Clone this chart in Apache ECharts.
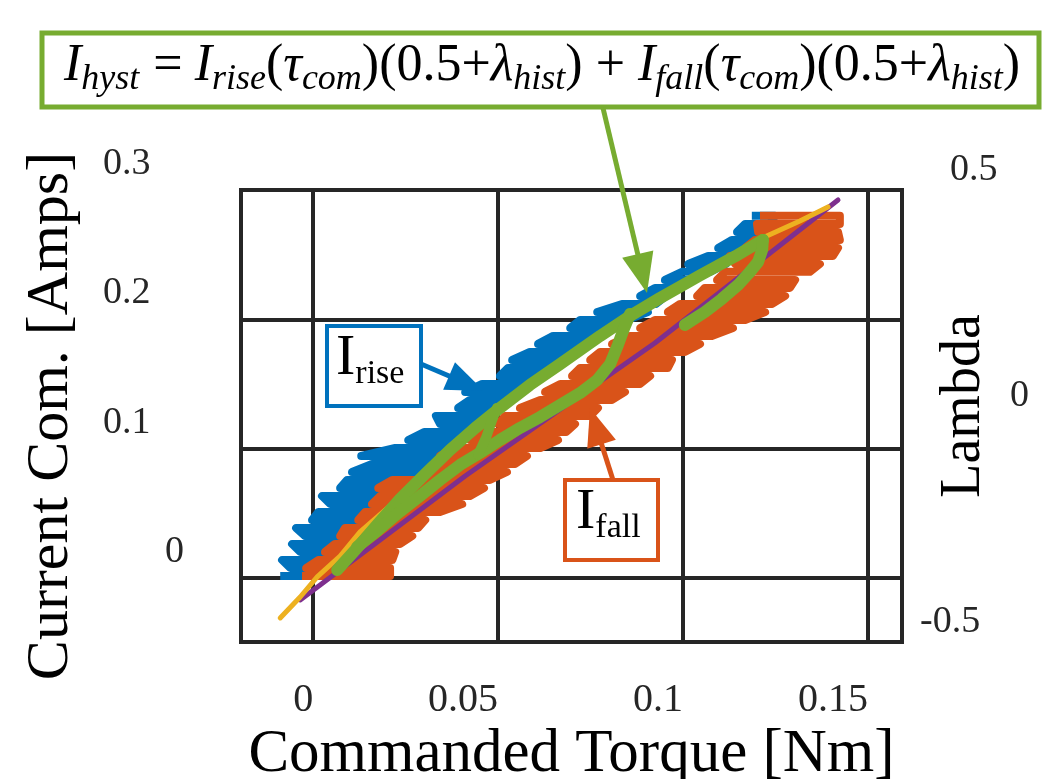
<!DOCTYPE html>
<html><head><meta charset="utf-8">
<script src="https://cdn.jsdelivr.net/npm/echarts@6/dist/echarts.min.js"></script>
<style>html,body{margin:0;padding:0;background:#fff}#c{width:1043px;height:779px}</style>
</head><body><div id="c"></div>
<script>
// ---- tick labels ----
const torqueTicks = [0, 0.05, 0.1, 0.15];
const currentTicks = [0, 0.1, 0.2, 0.3];
const lambdaTicks = [-0.5, 0, 0.5];

// ---- I_rise (blue): current levels with min / max commanded torque at each level ----
const riseI = [0.0015,0.0077,0.0139,0.0201,0.0263,0.0325,0.0387,0.0449,0.0510,0.0572,0.0634,0.0696,0.0758,0.0820,0.0882,0.0944,0.1005,0.1067,0.1129,0.1191,0.1253,0.1315,0.1377,0.1439,0.1500,0.1562,0.1624,0.1686,0.1748,0.1810,0.1872,0.1933,0.1995,0.2057,0.2119,0.2181,0.2243,0.2305,0.2367,0.2428,0.2490,0.2552,0.2614,0.2676,0.2738,0.2800];
const riseTmin = [-0.0089,-0.0062,-0.0084,-0.0035,-0.0057,-0.0022,-0.0046,-0.0003,0.0014,0.0046,0.0024,0.0073,0.0092,0.0105,0.0159,0.0130,0.0222,0.0257,0.0300,0.0343,0.0332,0.0392,0.0424,0.0411,0.0457,0.0505,0.0527,0.0538,0.0586,0.0608,0.0649,0.0695,0.0722,0.0768,0.0835,0.0884,0.0924,0.0951,0.0997,0.1014,0.1068,0.1095,0.1132,0.1146,0.1168,0.1186];
const riseTmax = [0.0014,0.0059,0.0086,0.0105,0.0127,0.0143,0.0162,0.0181,0.0200,0.0219,0.0241,0.0262,0.0284,0.0305,0.0327,0.0346,0.0373,0.0397,0.0422,0.0449,0.0476,0.0505,0.0532,0.0559,0.0589,0.0619,0.0654,0.0684,0.0716,0.0749,0.0778,0.0814,0.0849,0.0905,0.0927,0.0954,0.0992,0.1030,0.1073,0.1116,0.1159,0.1203,0.1241,0.1230,0.1235,0.1249];

// ---- I_fall (orange) ----
const fallI = [0.0015,0.0077,0.0139,0.0201,0.0263,0.0325,0.0387,0.0449,0.0510,0.0572,0.0634,0.0696,0.0758,0.0820,0.0882,0.0944,0.1005,0.1067,0.1129,0.1191,0.1253,0.1315,0.1377,0.1439,0.1500,0.1562,0.1624,0.1686,0.1748,0.1810,0.1872,0.1933,0.1995,0.2057,0.2119,0.2181,0.2243,0.2305,0.2367,0.2428,0.2490,0.2552,0.2614,0.2676,0.2738,0.2800];
const fallTmin = [-0.0030,-0.0019,0.0014,0.0032,0.0059,0.0073,0.0086,0.0122,0.0141,0.0159,0.0181,0.0176,0.0214,0.0316,0.0330,0.0343,0.0384,0.0424,0.0451,0.0500,0.0519,0.0559,0.0614,0.0627,0.0668,0.0700,0.0722,0.0749,0.0776,0.0808,0.0857,0.0884,0.0924,0.0959,0.0992,0.1038,0.1059,0.1092,0.1114,0.1141,0.1127,0.1168,0.1195,0.1203,0.1200,0.1208];
const fallTmax = [0.0208,0.0208,0.0214,0.0222,0.0235,0.0268,0.0284,0.0303,0.0343,0.0403,0.0424,0.0462,0.0478,0.0524,0.0546,0.0578,0.0614,0.0662,0.0684,0.0708,0.0749,0.0770,0.0808,0.0843,0.0884,0.0911,0.0959,0.0970,0.1005,0.1046,0.1078,0.1135,0.1168,0.1222,0.1241,0.1276,0.1289,0.1303,0.1343,0.1370,0.1405,0.1419,0.1424,0.1419,0.1424,0.1424];

// ---- fitted lines [torque, current] ----
const purpleFit = [[-0.0035,-0.0170],[0.0411,0.0789],[0.0924,0.1817],[0.1419,0.2923]];
const yellowFit = [[-0.0089,-0.0309],[-0.0035,-0.0147],[0.0011,0.0008],[0.0073,0.0170],[0.0127,0.0356],[0.0235,0.0626],[0.0370,0.0990],[0.0586,0.1493],[0.0857,0.2026],[0.1046,0.2336],[0.1216,0.2630],[0.1316,0.2761],[0.1392,0.2869]];

// ---- I_hyst (green) branches [torque, current] ----
const hystUp = [[0.0065,0.0062],[0.0114,0.0217],[0.0168,0.0394],[0.0235,0.0611],[0.0303,0.0804],[0.0370,0.0990],[0.0438,0.1160],[0.0505,0.1315],[0.0586,0.1493],[0.0668,0.1655],[0.0776,0.1872],[0.0857,0.2026],[0.0938,0.2165],[0.1046,0.2340],[0.1141,0.2487],[0.1216,0.2614]];
const hystTopDown = [[0.1216,0.2614],[0.1214,0.2537],[0.1203,0.2444],[0.1181,0.2367],[0.1149,0.2266],[0.1105,0.2158],[0.1059,0.2057],[0.1005,0.1957]];
const hystLow = [[0.0119,0.0240],[0.0176,0.0371],[0.0230,0.0503],[0.0289,0.0634],[0.0343,0.0758],[0.0397,0.0874],[0.0451,0.0967],[0.0505,0.1067],[0.0559,0.1160],[0.0614,0.1245],[0.0668,0.1338],[0.0722,0.1431],[0.0768,0.1531],[0.0803,0.1655],[0.0824,0.1802],[0.0841,0.1934],[0.0857,0.2042]];
const hystKink = [[0.0497,0.1315],[0.0484,0.1222],[0.0468,0.1090],[0.0446,0.0952]];

const F = 'Liberation Serif';
const INK = '#262626';
const C_BLUE = '#0072BD', C_ORANGE = '#D95319', C_YELLOW = '#EDB120', C_PURPLE = '#7E2F8E', C_GREEN = '#77AC30';

// snake through the levels: horizontal excursions alternating direction
function snake(levels, tmin, tmax) {
  const out = [];
  for (let i = 0; i < levels.length; i++) {
    if (i % 2 === 0) { out.push([tmin[i], levels[i]]); out.push([tmax[i], levels[i]]); }
    else { out.push([tmax[i], levels[i]]); out.push([tmin[i], levels[i]]); }
  }
  return out;
}

function lineSeries(name, data, color, width, cap) {
  return {
    name, type: 'line', data, xAxisIndex: 0, yAxisIndex: 0,
    showSymbol: false, symbol: 'none', smooth: false, silent: true,
    lineStyle: {color, width, cap: cap || 'round', join: 'round'}
  };
}

const chart = echarts.init(document.getElementById('c'), null, {renderer: 'canvas'});

function arrow(x1, y1, x2, y2, color, headLen, headHalf, width) {
  const dx = x2 - x1, dy = y2 - y1, L = Math.hypot(dx, dy);
  const ux = dx / L, uy = dy / L;
  const bx = x2 - ux * headLen, by = y2 - uy * headLen;
  const px = -uy * headHalf, py = ux * headHalf;
  return [
    {type: 'line', z: 100, shape: {x1, y1, x2: bx + ux * 2, y2: by + uy * 2}, style: {stroke: color, lineWidth: width}},
    {type: 'polygon', z: 100, shape: {points: [[x2, y2], [bx + px, by + py], [bx - px, by - py]]}, style: {fill: color}}
  ];
}

const sub = {fontFamily: F, fontStyle: 'italic', fontSize: 36, lineHeight: 36, verticalAlign: 'bottom', fill: '#000'};
const formula = '{i|I}{s|hyst}{e|=}{i|I}{s|rise}{r|(}{i|τ}{s|com}{r|)(0.5+}{i|λ}{s|hist}{r|) + }{i|I}{s|fall}{r|(}{i|τ}{s|com}{r|)(0.5+}{i|λ}{s|hist}{r|)}';

const graphics = [
  {type: 'rect', z: 99, shape: {x: 42, y: 33, width: 997, height: 74}, style: {fill: '#fff', stroke: C_GREEN, lineWidth: 5}},
  {type: 'text', z: 100, left: 64, top: 40, style: {text: formula, rich: {
    i: {fontFamily: F, fontStyle: 'italic', fontSize: 52, lineHeight: 64, fill: '#000'},
    r: {fontFamily: F, fontSize: 52, lineHeight: 64, fill: '#000'},
    e: {fontFamily: F, fontSize: 52, lineHeight: 64, fill: '#000', padding: [0, 12, 0, 14]},
    s: sub
  }}},
  ...arrow(603, 108, 647, 293, C_GREEN, 40, 16, 5),
  {type: 'rect', z: 99, shape: {x: 327, y: 326, width: 94, height: 80}, style: {fill: '#fff', stroke: C_BLUE, lineWidth: 4}},
  {type: 'text', z: 100, left: 336, top: 330, style: {text: '{a|I}{b|rise}', rich: {
    a: {fontFamily: F, fontSize: 58, lineHeight: 64, fill: '#000'},
    b: {fontFamily: F, fontSize: 34, lineHeight: 34, verticalAlign: 'bottom', fill: '#000'}
  }}},
  ...arrow(421, 364, 484, 391, C_BLUE, 38, 15, 5),
  {type: 'rect', z: 99, shape: {x: 565, y: 480, width: 93, height: 80}, style: {fill: '#fff', stroke: C_ORANGE, lineWidth: 4}},
  {type: 'text', z: 100, left: 576, top: 484, style: {text: '{a|I}{b|fall}', rich: {
    a: {fontFamily: F, fontSize: 58, lineHeight: 64, fill: '#000'},
    b: {fontFamily: F, fontSize: 34, lineHeight: 34, verticalAlign: 'bottom', fill: '#000'}
  }}},
  ...arrow(613, 480, 590, 408, C_ORANGE, 38, 15, 5)
];

const option = {
  animation: false,
  backgroundColor: '#fff',
  grid: {left: 241, top: 190, right: 141, bottom: 137, show: true, borderColor: INK, borderWidth: 4,
    backgroundColor: '#fff', containLabel: false, outerBoundsMode: 'none'},
  xAxis: {
    type: 'value', min: -0.0195, max: 0.1592,
    axisLine: {show: false}, axisTick: {show: false, customValues: torqueTicks},
    splitLine: {show: true, lineStyle: {color: INK, width: 4}},
    axisLabel: {customValues: torqueTicks, fontFamily: F, fontSize: 40, color: INK, align: 'right', margin: 38,
      formatter: v => String(v)},
    name: 'Commanded Torque [Nm]', nameLocation: 'middle', nameGap: 82, nameMoveOverlap: false,
    nameTextStyle: {fontFamily: F, fontSize: 61, color: '#000'}
  },
  yAxis: [{
    type: 'value', min: -0.0495, max: 0.3,
    axisLine: {show: false}, axisTick: {show: false, customValues: currentTicks},
    splitLine: {show: true, lineStyle: {color: INK, width: 4}},
    axisLabel: {customValues: currentTicks, fontFamily: F, fontSize: 38, color: INK, align: 'left', margin: 138,
      padding: [0, 0, 52, 0],
      formatter: v => v === 0 ? '{z|0}' : String(v),
      rich: {z: {fontFamily: F, fontSize: 38, color: INK, padding: [0, 0, 0, 62]}}},
    name: 'Current Com. [Amps]', nameLocation: 'middle', nameGap: 160,
    nameTextStyle: {fontFamily: F, fontSize: 60, color: '#000'}
  }, {
    type: 'value', min: -0.5, max: 0.5, position: 'right',
    axisLine: {show: false}, axisTick: {show: false, customValues: lambdaTicks},
    splitLine: {show: false},
    axisLabel: {customValues: lambdaTicks, fontFamily: F, fontSize: 38, color: INK, align: 'left', margin: 18,
      padding: [0, 0, 40, 0],
      formatter: v => v === 0 ? '{z|0}' : (v > 0 ? '{p|' + v + '}' : String(v)),
      rich: {z: {fontFamily: F, fontSize: 38, color: INK, padding: [0, 0, 0, 90]},
             p: {fontFamily: F, fontSize: 38, color: INK, padding: [0, 0, 0, 30]}}},
    name: 'Lambda', nameLocation: 'middle', nameGap: 34, nameMoveOverlap: false,
    nameTextStyle: {fontFamily: F, fontSize: 56, color: '#000', padding: [0, 0, 0, 20]}
  }],
  series: [
    lineSeries('I_rise', snake(riseI, riseTmin, riseTmax), C_BLUE, 8, 'butt'),
    lineSeries('I_fall', snake(fallI, fallTmin, fallTmax), C_ORANGE, 8, 'butt'),
    lineSeries('fit A', purpleFit, C_PURPLE, 5),
    lineSeries('fit B', yellowFit, C_YELLOW, 5),
    lineSeries('I_hyst rise', hystUp, C_GREEN, 12),
    lineSeries('I_hyst top', hystTopDown, C_GREEN, 12),
    lineSeries('I_hyst low', hystLow, C_GREEN, 12),
    lineSeries('I_hyst kink', hystKink, C_GREEN, 10)
  ],
  graphic: graphics
};
chart.setOption(option);
</script>
</body></html>
